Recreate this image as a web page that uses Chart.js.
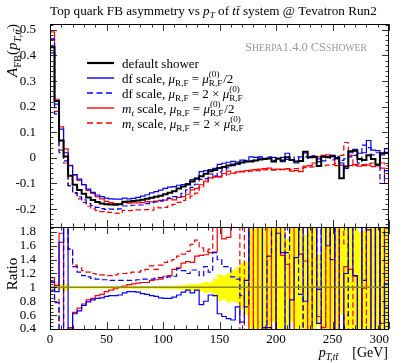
<!DOCTYPE html>
<html>
<head>
<meta charset="utf-8">
<script src="https://cdn.jsdelivr.net/npm/chart.js@4.4.1/dist/chart.umd.min.js"></script>
<style>
  html, body { margin: 0; padding: 0; background: #fff; }
  #wrap { position: relative; width: 402px; height: 363px; overflow: hidden; }
  canvas { position: absolute; left: 0; }
  #main { top: 0; }
  #ratio { top: 220px; }
</style>
</head>
<body>
<div id="wrap">
  <canvas id="main" width="402" height="228" style="width:402px;height:228px"></canvas>
  <canvas id="ratio" width="402" height="143" style="width:402px;height:143px"></canvas>
</div>
<script>
// bin edges of the p_T(ttbar) histogram, GeV
const binEdges = [0, 4, 8, 12, 16, 20, 24, 28, 32, 36, 40, 44, 48, 52, 56, 60, 64, 68, 72, 76,
  80, 84, 88, 92, 96, 100, 104, 108, 112, 116, 120, 124, 128, 132, 136, 140, 144, 148, 152, 156,
  160, 164, 168, 172, 176, 180, 184, 188, 192, 196, 200, 204, 208, 212, 216, 220, 224, 228, 232, 236,
  240, 244, 248, 252, 256, 260, 264, 268, 272, 276, 280, 284, 288, 292, 296, 300];

const xTickLabels = [0, 50, 100, 150, 200, 250, 300];
const mainYTicks = [-0.2, -0.1, 0, 0.1, 0.2, 0.3, 0.4, 0.5];
const ratioYTicks = [0.4, 0.6, 0.8, 1, 1.2, 1.4, 1.6, 1.8];

// A_FB per bin
const defaultShower = [0.432, 0.222, 0.068, 0.005, -0.070, -0.105, -0.125, -0.140, -0.155, -0.165,
  -0.172, -0.178, -0.181, -0.182, -0.183, -0.181, -0.171, -0.170, -0.168, -0.166,
  -0.164, -0.160, -0.156, -0.152, -0.148, -0.142, -0.136, -0.130, -0.120, -0.112,
  -0.104, -0.092, -0.082, -0.072, -0.062, -0.052, -0.047, -0.040, -0.036, -0.030,
  -0.026, -0.022, -0.018, -0.014, -0.014, -0.010, -0.006, -0.004, -0.002, -0.014,
  -0.002, -0.010, 0.002, -0.008, -0.014, -0.012, 0.024, 0.002, 0.004, -0.032,
  0.004, 0.002, 0.006, 0.000, -0.080, -0.034, 0.026, 0.028, -0.004, -0.008,
  0.010, -0.004, -0.026, 0.018, 0.020];
const dfHalf = [0.410, 0.210, 0.112, 0.020, -0.030, -0.065, -0.083, -0.104, -0.122, -0.135,
  -0.145, -0.151, -0.157, -0.160, -0.161, -0.161, -0.157, -0.160, -0.158, -0.154,
  -0.149, -0.144, -0.137, -0.132, -0.126, -0.119, -0.114, -0.112, -0.107, -0.104,
  -0.100, -0.085, -0.079, -0.054, -0.050, -0.046, -0.041, -0.025, -0.021, -0.017,
  -0.014, -0.016, -0.009, -0.015, 0.004, 0.002, 0.004, -0.002, -0.001, 0.002,
  -0.004, -0.015, 0.018, -0.007, -0.020, 0.004, 0.019, 0.004, 0.002, -0.015,
  0.006, 0.003, 0.010, -0.004, -0.020, -0.041, 0.020, 0.033, 0.018, 0.020,
  0.068, 0.030, 0.028, 0.012, 0.036];
const dfDouble = [0.465, 0.172, 0.020, -0.012, -0.108, -0.136, -0.152, -0.164, -0.178, -0.186,
  -0.193, -0.198, -0.201, -0.200, -0.201, -0.199, -0.188, -0.187, -0.185, -0.184,
  -0.184, -0.179, -0.175, -0.172, -0.169, -0.162, -0.156, -0.151, -0.152, -0.139,
  -0.125, -0.115, -0.103, -0.084, -0.081, -0.063, -0.071, -0.056, -0.047, -0.039,
  -0.030, -0.025, -0.016, -0.010, -0.012, -0.010, 0.000, -0.006, 0.004, -0.010,
  -0.004, 0.002, -0.006, -0.010, 0.004, -0.014, 0.004, -0.002, 0.008, -0.004,
  -0.012, 0.002, -0.008, 0.006, -0.010, -0.004, 0.004, 0.010, -0.020, 0.050,
  0.040, 0.012, 0.020, -0.100, -0.050];
const mtHalf = [0.492, 0.229, 0.121, 0.035, -0.029, -0.067, -0.088, -0.106, -0.127, -0.139,
  -0.151, -0.160, -0.170, -0.175, -0.179, -0.181, -0.174, -0.177, -0.176, -0.176,
  -0.175, -0.171, -0.172, -0.169, -0.166, -0.165, -0.159, -0.164, -0.154, -0.151,
  -0.142, -0.125, -0.119, -0.105, -0.091, -0.078, -0.071, -0.075, -0.061, -0.052,
  -0.060, -0.055, -0.053, -0.050, -0.048, -0.046, -0.044, -0.042, -0.040, -0.045,
  -0.044, -0.046, -0.042, -0.052, -0.050, -0.054, -0.032, -0.030, -0.020, 0.004,
  0.010, 0.012, 0.010, -0.030, -0.028, -0.034, -0.030, -0.026, -0.032, -0.030,
  -0.028, -0.034, -0.030, -0.040, -0.100];
const mtDouble = [0.462, 0.182, 0.030, -0.020, -0.109, -0.139, -0.160, -0.174, -0.189, -0.198,
  -0.205, -0.210, -0.212, -0.213, -0.216, -0.217, -0.205, -0.206, -0.205, -0.203,
  -0.203, -0.202, -0.204, -0.192, -0.195, -0.193, -0.188, -0.182, -0.174, -0.166,
  -0.158, -0.149, -0.138, -0.113, -0.094, -0.081, -0.075, -0.072, -0.068, -0.064,
  -0.060, -0.058, -0.055, -0.054, -0.052, -0.050, -0.050, -0.047, -0.046, -0.048,
  -0.046, -0.045, -0.044, -0.046, -0.042, -0.040, -0.038, -0.036, -0.035, -0.031,
  -0.030, -0.028, -0.026, -0.020, 0.010, 0.060, 0.010, -0.030, -0.024, -0.026,
  -0.022, -0.020, -0.030, -0.020, -0.030];

// ratio to default shower (values outside 0.4..1.87 run off the panel)
const ratioDfHalf = [0.96, 0.94, 1.65, 3.0, 0.40, 0.62, 0.66, 0.74, 0.79, 0.82,
  0.84, 0.85, 0.87, 0.88, 0.88, 0.89, 0.92, 0.94, 0.94, 0.93,
  0.91, 0.90, 0.88, 0.87, 0.85, 0.84, 0.84, 0.86, 0.89, 0.93,
  0.96, 0.92, 0.96, 0.75, 0.80, 0.89, 0.88, 0.62, 0.58, 0.55,
  0.53, 0.72, 0.50, 1.10, 3.0, 3.0, 3.0, 0.42, 0.42, -1,
  1.78, 1.50, -1, 0.82, 1.43, 3.0, 0.80, 3.0, 3.0, 0.48,
  3.0, 1.60, 3.0, -1, 0.25, 1.20, 3.0, 1.17, -1, 3.0,
  1.83, -1, 3.0, -1, 1.05];
const ratioDfDouble = [1.08, 0.78, -0.5, 3.0, 1.55, 1.30, 1.22, 1.17, 1.15, 1.13,
  1.12, 1.11, 1.11, 1.10, 1.10, 1.10, 1.10, 1.10, 1.10, 1.11,
  1.12, 1.12, 1.12, 1.13, 1.14, 1.14, 1.15, 1.16, 1.27, 1.24,
  1.20, 1.25, 1.25, 1.17, 1.30, 1.22, 1.50, 1.40, 1.30, 1.30,
  1.15, 1.12, 0.88, 0.72, 3.0, 3.0, 3.0, -1, 1.45, 3.0,
  3.0, 3.0, 1.50, 3.0, 3.0, 0.90, -1, -1, 3.0, 0.97,
  3.0, 3.0, 1.40, 3.0, -1, 0.60, 3.0, 3.0, 3.0, 1.10,
  3.0, 3.0, -1, 3.0, 0.70];
const ratioMtHalf = [1.14, 1.03, 1.78, -1, 0.42, 0.64, 0.70, 0.76, 0.82, 0.84,
  0.88, 0.90, 0.94, 0.96, 0.98, 1.00, 1.02, 1.04, 1.05, 1.06,
  1.07, 1.07, 1.10, 1.11, 1.12, 1.16, 1.17, 1.26, 1.28, 1.35,
  1.37, 1.36, 1.45, 1.46, 1.47, 1.50, 1.51, 3.0, 1.70, 1.72,
  3.0, 3.0, 3.0, 3.0, -1, 3.0, -1, 0.42, 3.0, -1,
  3.0, 1.46, 1.33, -1, 3.0, 1.48, 1.38, -1, 3.0, 0.58,
  0.42, 3.0, -1, 3.0, -1, 1.30, 1.26, 1.16, -1, 0.99,
  3.0, -1, 3.0, 0.48, 3.0];
const ratioMtDouble = [1.07, 0.82, 0.30, 3.0, 1.55, 1.32, 1.28, 1.24, 1.22, 1.20,
  1.19, 1.18, 1.17, 1.17, 1.18, 1.20, 1.20, 1.21, 1.22, 1.22,
  1.24, 1.26, 1.31, 1.26, 1.32, 1.36, 1.38, 1.40, 1.45, 1.48,
  1.52, 1.62, 1.68, 1.57, 1.52, 1.55, 3.0, 3.0, 3.0, 3.0,
  3.0, 3.0, -1, 3.0, 3.0, -1, -1, 3.0, 3.0, -1,
  3.0, 3.0, -1, 3.0, 3.0, 3.0, -1, 3.0, 3.0, 0.97,
  -1, 3.0, 3.0, -1, 3.0, 1.63, -1, 3.0, 3.0, -1,
  3.0, 3.0, -1, 3.0, -1];
const ratioUnityX = [0, 300];
const ratioUnity = [1, 1];

// uncertainty band of the default shower in the ratio
const bandLow = [0.98, 0.98, 0.95, 0.95, 0.985, 0.985, 0.985, 0.985, 0.985, 0.985,
  0.985, 0.985, 0.985, 0.985, 0.985, 0.98, 0.98, 0.98, 0.98, 0.98,
  0.98, 0.98, 0.98, 0.98, 0.98, 0.975, 0.975, 0.975, 0.97, 0.97,
  0.96, 0.955, 0.95, 0.94, 0.92, 0.93, 0.86, 0.80, 0.82, 0.78,
  0.80, 0.77, 0.68, 0.60, 0, 0, 0, 0, 0, 0.5,
  0, 0, 0, 0.5, 0, 0, 0, 0, 0, 0.45,
  0, 0, 0, 0, 0.6, 0, 0, 0, 0, 0,
  0, 0, 0, 0, 0];
const bandHigh = [1.02, 1.02, 1.05, 1.05, 1.015, 1.015, 1.015, 1.015, 1.015, 1.015,
  1.015, 1.015, 1.015, 1.015, 1.015, 1.02, 1.02, 1.02, 1.02, 1.02,
  1.02, 1.02, 1.02, 1.02, 1.02, 1.025, 1.025, 1.025, 1.03, 1.03,
  1.04, 1.045, 1.05, 1.06, 1.08, 1.07, 1.12, 1.19, 1.17, 1.20,
  1.25, 1.29, 1.35, 1.37, 3, 1.85, 3, 3, 3, 3,
  3, 3, 1.70, 3, 3, 3, 1.76, 3, 3, 1.48,
  3, 3, 3, 3, 1.85, 3, 3, 3, 1.80, 1.82,
  3, 3, 3, 3, 3];

const FONT = '"Liberation Serif", "DejaVu Serif", serif';
Chart.defaults.font.family = FONT;

// histogram points at the left bin edges, closed at the last edge
function hist(vals) {
  const pts = vals.map((v, i) => ({ x: binEdges[i], y: v }));
  pts.push({ x: binEdges[vals.length], y: vals[vals.length - 1] });
  return pts;
}

function histLine(label, vals, color, width, dash) {
  return {
    label, data: hist(vals), borderColor: color, borderWidth: width,
    borderDash: dash || [], stepped: 'before', pointRadius: 0, fill: false, clip: 0
  };
}

// --- small rich-text helper for italics / sub / superscripts ---
function fontFor(style, size) {
  let s = size;
  if (style === 'sub' || style === 'subi' || style === 'sup' || style === 'ss') s = size * 0.7;
  if (style === 'sc') s = size * 0.78;
  const it = style === 'i' || style === 'subi';
  return (it ? 'italic ' : '') + s.toFixed(2) + 'px ' + FONT;
}

function layoutRich(ctx, parts, size) {
  let w = 0;
  const items = [];
  for (const [t, st] of parts) {
    ctx.font = fontFor(st, size);
    items.push({ t, st, x: w });
    if (st === 'ss') w += Math.max(ctx.measureText(t[0]).width, ctx.measureText(t[1]).width) + 1;
    else w += ctx.measureText(t).width;
  }
  return { items, w };
}

function drawRich(ctx, parts, x, y, size, align) {
  const { items, w } = layoutRich(ctx, parts, size);
  const x0 = align === 'right' ? x - w : align === 'center' ? x - w / 2 : x;
  ctx.textAlign = 'left';
  ctx.textBaseline = 'alphabetic';
  for (const it of items) {
    ctx.font = fontFor(it.st, size);
    if (it.st === 'ss') {
      ctx.fillText(it.t[0], x0 + it.x, y - size * 0.42);
      ctx.fillText(it.t[1], x0 + it.x, y + size * 0.26);
    } else {
      const dy = (it.st === 'sub' || it.st === 'subi') ? size * 0.24 : it.st === 'sup' ? -size * 0.4 : 0;
      ctx.fillText(it.t, x0 + it.x, y + dy);
    }
  }
  return w;
}

function fitSize(ctx, parts, base, target) {
  return base * target / layoutRich(ctx, parts, base).w;
}

// frame with inward ticks on all four sides
function drawFrame(chart, yStep, yFrom, yTo, yMajors) {
  const { ctx, chartArea: a, scales: { x, y } } = chart;
  ctx.save();
  ctx.strokeStyle = '#000';
  ctx.lineWidth = 0.8;
  ctx.beginPath();
  for (let k = 0; k <= 30; k++) {
    const v = k * 10;
    const len = xTickLabels.includes(v) ? 7 : 3.5;
    const px = Math.round(x.getPixelForValue(v)) + 0.5;
    ctx.moveTo(px, a.top); ctx.lineTo(px, a.top + len);
    ctx.moveTo(px, a.bottom); ctx.lineTo(px, a.bottom - len);
  }
  const n = Math.round((yTo - yFrom) / yStep);
  for (let k = 0; k <= n; k++) {
    const v = yFrom + k * yStep;
    const major = yMajors.some(m => Math.abs(m - v) < 1e-6);
    const len = major ? 7 : 3.5;
    const py = Math.round(y.getPixelForValue(v)) + 0.5;
    ctx.moveTo(a.left, py); ctx.lineTo(a.left + len, py);
    ctx.moveTo(a.right, py); ctx.lineTo(a.right - len, py);
  }
  ctx.stroke();
  ctx.lineWidth = 1;
  ctx.strokeRect(a.left + 0.5, a.top + 0.5, a.right - a.left - 1, a.bottom - a.top);
  ctx.restore();
}

const fmtTick = v => String(+Number(v).toFixed(2));

const titleParts = [['Top quark FB asymmetry vs ', 'r'], ['p', 'i'], ['T', 'subi'], [' of ', 'r'],
  ['tt\u0304', 'i'], [' system @ Tevatron Run2', 'r']];
const sherpaParts = [['S', 'r'], ['HERPA', 'sc'], ['1.4.0 CS', 'r'], ['SHOWER', 'sc']];
const yTitleParts = [['A', 'i'], ['FB', 'sub'], ['(', 'r'], ['p', 'i'], ['T,tt\u0304', 'subi'], [')', 'r']];
const legendLabels = [
  [['default shower', 'r']],
  [['df scale, ', 'r'], ['\u03bc', 'i'], ['R,F', 'sub'], [' = ', 'r'], ['\u03bc', 'i'], [['(0)', 'R,F'], 'ss'], ['/2', 'r']],
  [['df scale, ', 'r'], ['\u03bc', 'i'], ['R,F', 'sub'], [' = 2 \u00d7 ', 'r'], ['\u03bc', 'i'], [['(0)', 'R,F'], 'ss']],
  [['m', 'i'], ['t', 'subi'], [' scale, ', 'r'], ['\u03bc', 'i'], ['R,F', 'sub'], [' = ', 'r'], ['\u03bc', 'i'], [['(0)', 'R,F'], 'ss'], ['/2', 'r']],
  [['m', 'i'], ['t', 'subi'], [' scale, ', 'r'], ['\u03bc', 'i'], ['R,F', 'sub'], [' = 2 \u00d7 ', 'r'], ['\u03bc', 'i'], [['(0)', 'R,F'], 'ss']]
];

const mainDecor = {
  id: 'mainDecor',
  afterDraw(chart) {
    const ctx = chart.ctx;
    drawFrame(chart, 0.02, -0.26, 0.52, mainYTicks);
    ctx.save();
    ctx.fillStyle = '#000';
    drawRich(ctx, titleParts, 50, 15, fitSize(ctx, titleParts, 13, 327), 'left');

    ctx.fillStyle = '#999';
    drawRich(ctx, sherpaParts, 245, 51, fitSize(ctx, sherpaParts, 12, 122), 'left');

    ctx.save();
    ctx.fillStyle = '#000';
    ctx.translate(17, 24);
    ctx.rotate(-Math.PI / 2);
    drawRich(ctx, yTitleParts, 0, 0, 15, 'right');
    ctx.restore();

    chart.data.datasets.forEach((ds, i) => {
      const yRow = 63 + 15 * i;
      ctx.strokeStyle = ds.borderColor;
      ctx.lineWidth = ds.borderWidth + 0.2;
      ctx.setLineDash(ds.borderDash.length ? [6, 3.5] : []);
      ctx.beginPath();
      ctx.moveTo(87, yRow);
      ctx.lineTo(114, yRow);
      ctx.stroke();
      ctx.setLineDash([]);
      ctx.fillStyle = '#000';
      drawRich(ctx, legendLabels[i], 122, yRow + 4.5, 13, 'left');
    });
    ctx.restore();
  }
};

const ratioDecor = {
  id: 'ratioDecor',
  afterDraw(chart) {
    const { ctx, scales: { x } } = chart;
    drawFrame(chart, 0.05, 0.4, 1.85, ratioYTicks);
    ctx.save();
    ctx.fillStyle = '#000';
    ctx.font = '13px ' + FONT;
    ctx.textBaseline = 'alphabetic';
    xTickLabels.forEach((v, i) => {
      ctx.textAlign = i === xTickLabels.length - 1 ? 'right' : 'center';
      ctx.fillText(String(v), x.getPixelForValue(v), 123);
    });
    drawRich(ctx, [['p', 'i'], ['T,tt\u0304', 'subi'], ['\u2003[GeV]', 'r']], 388, 137, 14, 'right');

    ctx.translate(17, 54);
    ctx.rotate(-Math.PI / 2);
    drawRich(ctx, [['Ratio', 'r']], 0, 0, 15, 'center');
    ctx.restore();
  }
};

const yAxisCommon = {
  afterFit: s => { s.width = 50; s.paddingTop = 0; s.paddingBottom = 0; },
  grid: { display: false },
  border: { display: false },
  ticks: { font: { family: FONT, size: 13 }, color: '#000', padding: 6, autoSkip: false, callback: fmtTick }
};

new Chart(document.getElementById('main'), {
  type: 'line',
  data: {
    datasets: [
      histLine('default shower', defaultShower, '#000', 2),
      histLine('df scale, mu/2', dfHalf, '#0000ff', 1.2),
      histLine('df scale, 2 mu', dfDouble, '#0000ff', 1.2, [5.5, 3]),
      histLine('mt scale, mu/2', mtHalf, '#ff0000', 1.2),
      histLine('mt scale, 2 mu', mtDouble, '#ff0000', 1.2, [5.5, 3])
    ]
  },
  options: {
    responsive: false, animation: false, devicePixelRatio: 1,
    layout: { padding: { left: 0, right: 13, top: 24, bottom: 1 } },
    plugins: { legend: { display: false }, tooltip: { enabled: false } },
    scales: {
      x: { type: 'linear', min: 0, max: 300, display: false },
      y: Object.assign({ type: 'linear', min: -0.27, max: 0.523,
        afterBuildTicks: s => { s.ticks = mainYTicks.map(v => ({ value: v })); } }, yAxisCommon)
    }
  },
  plugins: [mainDecor]
});

new Chart(document.getElementById('ratio'), {
  type: 'line',
  data: {
    datasets: [
      { label: 'default', data: ratioUnityX.map((v, i) => ({ x: v, y: ratioUnity[i] })),
        borderColor: '#8e8a24', borderWidth: 1.5, pointRadius: 0, fill: false },
      histLine('df scale, mu/2', ratioDfHalf, '#0000ff', 1.2),
      histLine('df scale, 2 mu', ratioDfDouble, '#0000ff', 1.2, [5.5, 3]),
      histLine('mt scale, mu/2', ratioMtHalf, '#ff0000', 1.2),
      histLine('mt scale, 2 mu', ratioMtDouble, '#ff0000', 1.2, [5.5, 3]),
      { label: 'band high', data: hist(bandHigh), stepped: 'before', pointRadius: 0,
        borderColor: 'rgba(0,0,0,0)', borderWidth: 0, backgroundColor: '#ffff00', fill: '+1' },
      { label: 'band low', data: hist(bandLow), stepped: 'before', pointRadius: 0,
        borderColor: 'rgba(0,0,0,0)', borderWidth: 0, fill: false }
    ]
  },
  options: {
    responsive: false, animation: false, devicePixelRatio: 1,
    layout: { padding: { left: 0, right: 13, top: 7, bottom: 34 } },
    plugins: { legend: { display: false }, tooltip: { enabled: false } },
    scales: {
      x: { type: 'linear', min: 0, max: 300, display: false },
      y: Object.assign({ type: 'linear', min: 0.4, max: 1.87,
        afterBuildTicks: s => { s.ticks = ratioYTicks.map(v => ({ value: v })); } }, yAxisCommon)
    }
  },
  plugins: [ratioDecor]
});
</script>
</body>
</html>
